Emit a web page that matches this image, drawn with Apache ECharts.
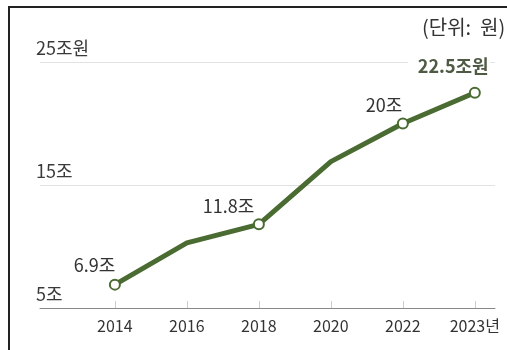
<!DOCTYPE html>
<html>
<head>
<meta charset="utf-8">
<script src="https://cdn.jsdelivr.net/npm/echarts@6/dist/echarts.min.js"></script>
<style>
html,body{margin:0;padding:0;background:#fff;}
#chart{width:507px;height:350px;}
</style>
</head>
<body>
<div id="chart"></div>
<script>
var years = ['2014', '2016', '2018', '2020', '2022', '2023년'];
var values = [6.9, 10.3, 11.8, 16.9, 20, 22.5];
var pointLabels = ['6.9조', '', '11.8조', '', '20조', '22.5조원'];
var yTicks = [5, 15, 25];
var yTickLabels = {5: '5조', 15: '15조', 25: '25조원'};

(function () {
    var dom = document.getElementById('chart');
    var myChart = echarts.init(dom);
    var font = '"Noto Sans CJK KR", "Noto Sans", sans-serif';
    var lineColor = '#4a6b31';

    // label offsets from the symbol's top-left corner
    var labelPos = [
        {position: [-35, -22]},
        null,
        {position: [-50, -21]},
        null,
        {position: [-31, -21]},
        {position: [-61, -34], color: '#4f5a45', fontWeight: 'bold', fontSize: 18,
            backgroundColor: '#fff', padding: [4, 2, 2, 10]}
    ];

    var data = values.map(function (v, i) {
        var item = {value: [i, v]};
        if (pointLabels[i]) {
            var lb = {show: true, formatter: pointLabels[i]};
            var extra = labelPos[i];
            for (var k in extra) lb[k] = extra[k];
            item.label = lb;
        } else {
            item.symbol = 'none';
        }
        return item;
    });

    var option = {
        animation: false,
        grid: {left: 40, right: 12, top: 62, bottom: 42},
        graphic: [
            {type: 'polyline', shape: {points: [[9, 350], [9, 7], [507, 7]]},
                style: {stroke: '#222', lineWidth: 2, fill: null}},
            {type: 'text', x: 422, y: 17,
                style: {text: '(단위:  원)', font: '20px ' + font, fill: '#333'}}
        ],
        xAxis: {
            type: 'value',
            min: -1.04,
            max: 5.28,
            splitLine: {show: false},
            axisLine: {show: true, lineStyle: {color: '#888', width: 1}},
            axisTick: {show: true, inside: true, length: 7, customValues: [0, 1, 2, 3, 4, 5],
                lineStyle: {color: '#ccc'}},
            axisLabel: {customValues: [0, 1, 2, 3, 4, 5], margin: 10, fontSize: 16, color: '#333',
                fontFamily: font,
                formatter: function (v) { return years[Math.round(v)]; }}
        },
        yAxis: {
            type: 'value',
            min: 5,
            max: 25,
            axisLine: {show: false},
            axisTick: {show: false, customValues: yTicks},
            splitLine: {show: true, lineStyle: {color: '#e2e2e2', width: 1}},
            axisLabel: {
                customValues: yTicks,
                inside: true,
                margin: -4,
                verticalAlign: 'bottom',
                padding: [0, 0, 5, 0],
                fontSize: 18,
                color: '#3a3a3a',
                fontFamily: font,
                formatter: function (v) { return yTickLabels[v]; }
            }
        },
        series: [{
            type: 'line',
            data: data,
            symbol: 'circle',
            symbolSize: 10,
            itemStyle: {color: '#fff', borderColor: lineColor, borderWidth: 2},
            lineStyle: {color: lineColor, width: 5},
            label: {fontSize: 18, color: '#333', fontFamily: font},
            z: 3
        }]
    };
    myChart.setOption(option, true);
})();
</script>
</body>
</html>
